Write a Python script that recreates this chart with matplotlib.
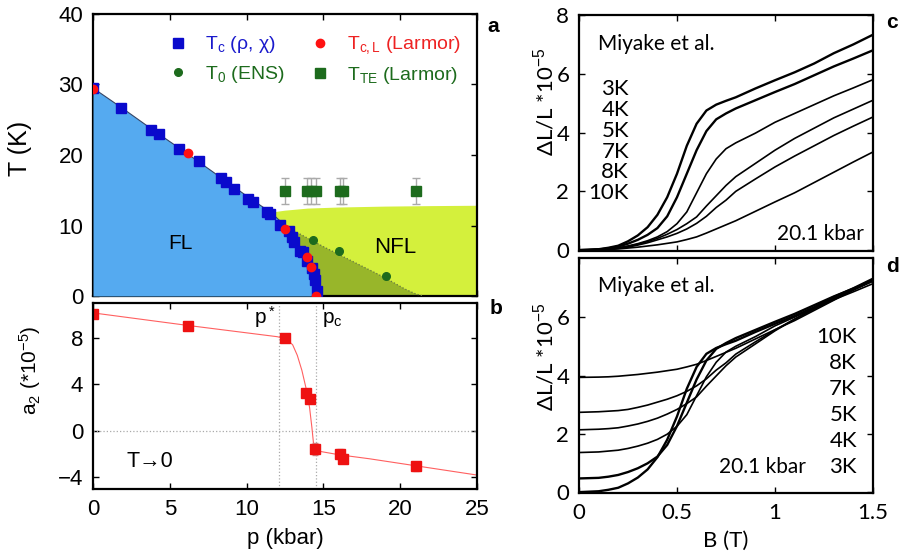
import matplotlib
matplotlib.use("Agg")
import matplotlib.pyplot as plt
from matplotlib.lines import Line2D
import numpy as np

plt.rcParams['font.family'] = ['Liberation Sans', 'DejaVu Sans']
plt.rcParams['mathtext.fontset'] = 'custom'
plt.rcParams['mathtext.rm'] = 'Liberation Sans'
plt.rcParams['mathtext.it'] = 'Liberation Sans'

# ---- panel a: phase diagram ----
tc_p = [0.03, 1.8, 3.76, 4.3, 5.57, 6.9, 8.35, 8.63, 9.2, 10.1, 10.4, 11.3, 11.5,
        12.15, 12.77, 12.96, 13.1, 13.5, 13.7, 13.9, 14.25, 14.37, 14.44, 14.6]
tc_T = [29.5, 26.6, 23.6, 23.0, 20.8, 19.2, 16.7, 16.2, 15.2, 13.7, 13.4, 11.9, 11.6,
        10.1, 9.25, 8.4, 7.7, 6.35, 6.2, 5.0, 4.0, 3.1, 2.2, 0.7]
tcl_p = [0.0, 6.2, 12.5, 13.9, 14.2, 14.5]
tcl_T = [29.4, 20.3, 9.5, 5.5, 4.1, 0.0]
t0_p = [14.3, 16.0, 19.05]
t0_T = [8.0, 6.4, 2.9]
tte_p = [12.5, 13.9, 14.2, 14.5, 16.07, 16.3, 21.05]
tte_T = [14.9, 14.9, 14.9, 14.9, 14.9, 14.9, 14.9]
tte_err = [1.9, 1.9, 1.9, 1.9, 1.9, 1.9, 1.9]

# phase boundary Tc(p)
bound_p = [0, 2, 4, 6, 8, 10, 11.6, 12.5, 13.2, 13.8, 14.2, 14.45, 14.6]
bound_T = [29.5, 26.5, 23.4, 20.4, 17.3, 14.2, 11.8, 10.0, 8.0, 5.8, 3.8, 2.0, 0.0]
# top of NFL region
nfl_top_p = [11.6, 12.0, 12.5, 14, 16, 19, 22, 25]
nfl_top_T = [11.8, 11.95, 12.1, 12.4, 12.55, 12.68, 12.75, 12.8]
# crossover line (dotted)
cross_p = [12.7, 15.0, 17.0, 19.0, 20.3, 21.0, 21.5]
cross_T = [9.7, 7.0, 4.8, 2.6, 1.0, 0.3, 0.0]

# ---- panel b: a2 coefficient ----
a2_p = [0.0, 6.17, 12.48, 13.85, 14.15, 14.48, 16.07, 16.3, 21.0]
a2_v = [10.06, 9.06, 8.0, 3.27, 2.76, -1.54, -2.0, -2.4, -3.05]
a2_err = [0, 0, 0, 0, 0, 0.5, 0.4, 0.4, 0.4]
fit_p = [0, 6, 12, 12.6, 13.0, 13.3, 13.6, 13.9, 14.1, 14.25, 14.35, 14.5, 16, 18, 21, 25]
fit_v = [10.15, 9.1, 8.1, 7.9, 7.4, 6.5, 5.2, 3.5, 2.0, 0.3, -1.0, -1.7, -2.05, -2.4, -3.0, -3.8]
p_star = 12.1
p_c = 14.55

# ---- panels c, d: magnetostriction ----
B = [0, 0.1, 0.15, 0.2, 0.25, 0.3, 0.35, 0.4, 0.45, 0.5, 0.55, 0.6, 0.65, 0.7, 0.75,
     0.8, 0.9, 1.0, 1.1, 1.2, 1.3, 1.4, 1.5]
temps = ['3K', '4K', '5K', '7K', '8K', '10K']
dL = {
    '3K': [0, 0.03, 0.08, 0.15, 0.3, 0.5, 0.78, 1.2, 1.8, 2.6, 3.55, 4.3, 4.75, 4.95, 5.08,
           5.2, 5.5, 5.78, 6.05, 6.35, 6.7, 7.0, 7.33],
    '4K': [0, 0.02, 0.06, 0.12, 0.22, 0.35, 0.52, 0.75, 1.15, 1.8, 2.6, 3.4, 4.05, 4.45, 4.65,
           4.82, 5.1, 5.38, 5.65, 5.95, 6.25, 6.52, 6.8],
    '5K': [0, 0.02, 0.05, 0.08, 0.14, 0.22, 0.32, 0.45, 0.63, 0.9, 1.3, 1.95, 2.6, 3.1, 3.45,
           3.65, 3.98, 4.35, 4.65, 4.95, 5.25, 5.52, 5.8],
    '7K': [0, 0.02, 0.04, 0.07, 0.13, 0.2, 0.29, 0.4, 0.54, 0.7, 0.9, 1.13, 1.5, 1.85, 2.2,
           2.5, 2.95, 3.4, 3.8, 4.15, 4.5, 4.8, 5.1],
    '8K': [0, 0.02, 0.04, 0.06, 0.1, 0.17, 0.25, 0.35, 0.45, 0.57, 0.72, 0.91, 1.15, 1.45, 1.7,
           2.0, 2.42, 2.83, 3.2, 3.55, 3.9, 4.22, 4.53],
    '10K': [0, 0.01, 0.02, 0.04, 0.07, 0.1, 0.14, 0.18, 0.23, 0.28, 0.36, 0.45, 0.58, 0.72, 0.86,
            1.0, 1.32, 1.64, 1.95, 2.3, 2.65, 3.0, 3.34],
}
offsets = {'3K': 0.0, '4K': 0.47, '5K': 1.36, '7K': 2.14, '8K': 2.74, '10K': 3.94}

blue_fill = '#55aaf0'
nfl_fill = '#d4f03c'
olive_fill = '#98b62a'
green = '#1d6b1d'

fig = plt.figure(figsize=(9.05, 5.52), dpi=100)
W, H = 905, 552
ax_a = fig.add_axes([93 / W, 1 - 296 / H, 384 / W, 282 / H])
ax_b = fig.add_axes([93 / W, 1 - 489 / H, 384 / W, 186 / H])
ax_c = fig.add_axes([579 / W, 1 - 251 / H, 294 / W, 236 / H])
ax_d = fig.add_axes([579 / W, 1 - 493 / H, 294 / W, 235 / H])

for ax in (ax_a, ax_b, ax_c, ax_d):
    for s in ax.spines.values():
        s.set_linewidth(1.6)
    ax.tick_params(direction='in', top=True, right=True, length=4, width=1,
                   labelsize=16, pad=7)

# panel a
bp = np.array(bound_p)
bT = np.array(bound_T)
k = bound_p.index(11.6)
nfl_poly_p = list(bp[k:]) + [25, 25] + nfl_top_p[::-1]
nfl_poly_T = list(bT[k:]) + [0, 12.8] + nfl_top_T[::-1]
ax_a.fill(nfl_poly_p, nfl_poly_T, color=nfl_fill, lw=0, zorder=1)
j = 7
ol_p = [cross_p[0]] + list(bp[j:]) + cross_p[::-1]
ol_T = [cross_T[0]] + list(bT[j:]) + cross_T[::-1]
ax_a.fill(ol_p, ol_T, color=olive_fill, lw=0, zorder=2)
ax_a.plot(cross_p, cross_T, ls=':', color='#667744', lw=0.9, zorder=3)
ax_a.fill_between(bound_p, bound_T, 0, color=blue_fill, lw=0, zorder=3)
ax_a.plot(bound_p, bound_T, color='#334466', lw=0.8, zorder=4)

ax_a.errorbar(tte_p, tte_T, yerr=tte_err, fmt='s', color=green, ms=6.5,
              ecolor='#aaaaaa', elinewidth=1, capsize=3, zorder=5)
ax_a.plot(t0_p, t0_T, 'o', color=green, ms=5.5, zorder=5)
ax_a.plot(tc_p, tc_T, 's', color='#0a0acc', ms=6.5, zorder=6)
ax_a.plot(tcl_p, tcl_T, 'o', color='#ff1111', ms=6, zorder=7)

ax_a.text(5.7, 7.4, 'FL', fontsize=15, ha='center', va='center', zorder=8)
ax_a.text(19.7, 6.9, 'NFL', fontsize=16, ha='center', va='center', zorder=8)

handles = [Line2D([], [], ls='', marker='s', color='#0a0acc', ms=6.5),
           Line2D([], [], ls='', marker='o', color=green, ms=5.5),
           Line2D([], [], ls='', marker='o', color='#ff1111', ms=6),
           Line2D([], [], ls='', marker='s', color=green, ms=6.5)]
labels = [r'T$_\mathrm{c}$ ($\mathrm{\rho}$, $\mathrm{\chi}$)', r'T$_\mathrm{0}$ (ENS)',
          r'T$_\mathrm{c,L}$ (Larmor)', r'T$_\mathrm{TE}$ (Larmor)']
ax_a.legend(handles, labels, ncol=2, loc='upper left', bbox_to_anchor=(0.15, 0.99),
            frameon=False, fontsize=14, handlelength=1.0, handletextpad=0.9,
            columnspacing=1.3, labelspacing=0.45,
            labelcolor=['#1a1acc', green, '#ee2222', green])

ax_a.set_xlim(0, 25)
ax_a.set_ylim(0, 40)
ax_a.set_yticks([0, 10, 20, 30, 40])
ax_a.set_xticks([0, 5, 10, 15, 20, 25])
ax_a.set_xticklabels([])
ax_a.set_ylabel('T (K)', fontsize=18)
ax_a.yaxis.set_label_coords(-0.16, 0.525)

# panel b
ax_b.axhline(0, color='#aaaaaa', ls=':', lw=0.9)
ax_b.axvline(p_star, color='#aaaaaa', ls=':', lw=0.9)
ax_b.axvline(p_c, color='#aaaaaa', ls=':', lw=0.9)
ax_b.plot(fit_p, fit_v, color='#ff6060', lw=0.8)
ax_b.errorbar(a2_p, a2_v, yerr=a2_err, fmt='s', color='#ee1111', ms=7,
              ecolor='#cc8888', elinewidth=1, capsize=2)
ax_b.text(11.9, 9.8, r'p$^*$', fontsize=15, ha='right', va='center')
ax_b.text(14.9, 9.6, r'p$_\mathrm{c}$', fontsize=15, ha='left', va='center')
ax_b.text(2.2, -2.64, 'T→0', fontsize=15.5, ha='left', va='center')
ax_b.set_xlim(0, 25)
ax_b.set_ylim(-5, 11)
ax_b.set_yticks([-4, 0, 4, 8])
ax_b.set_xticks([0, 5, 10, 15, 20, 25])
ax_b.set_xlabel('p (kbar)', fontsize=16, labelpad=6)
ax_b.set_ylabel(r'a$_\mathrm{2}$ (*10$^{-5}$)', fontsize=15)
ax_b.yaxis.set_label_coords(-0.13, 0.64)

# panels c, d
for t in temps:
    lw = 1.7 if t in ('3K', '4K') else 1.2
    ax_c.plot(B, dL[t], color='black', lw=lw)
    ax_d.plot(B, np.array(dL[t]) + offsets[t], color='black', lw=lw)

lato = ['Lato', 'DejaVu Sans']
ax_c.text(0.065, 0.875, 'Miyake et al.', transform=ax_c.transAxes, fontsize=15,
          family=lato, va='center')
ax_c.text(0.97, 0.07, '20.1 kbar', transform=ax_c.transAxes, fontsize=15, family=lato,
          ha='right', va='center')
for i, t in enumerate(temps):
    ax_c.text(0.17, 0.685 - i * 0.088, t, transform=ax_c.transAxes, fontsize=16,
              family=lato, ha='right', va='center')
ax_d.text(0.065, 0.88, 'Miyake et al.', transform=ax_d.transAxes, fontsize=15,
          family=lato, va='center')
ax_d.text(0.77, 0.112, '20.1 kbar', transform=ax_d.transAxes, fontsize=15, family=lato,
          ha='right', va='center')
for i, t in enumerate(temps[::-1]):
    ax_d.text(0.945, 0.665 - i * 0.1106, t, transform=ax_d.transAxes, fontsize=16,
              family=lato, ha='right', va='center')

ax_c.set_xlim(0, 1.5)
ax_c.set_ylim(-0.03, 8)
ax_c.set_yticks([0, 2, 4, 6, 8])
ax_c.set_xticks([0, 0.5, 1, 1.5])
ax_c.set_xticklabels([])
ax_d.set_xlim(0, 1.5)
ax_d.set_ylim(-0.03, 8.04)
ax_d.set_yticks([0, 2, 4, 6])
ax_d.set_xticks([0, 0.5, 1, 1.5])
ax_d.set_xticklabels(['0', '0.5', '1', '1.5'])
ax_d.set_xlabel('B (T)', fontsize=16, family=lato, labelpad=6)
for ax, yc in ((ax_c, 0.63), (ax_d, 0.58)):
    ax.set_ylabel(r'ΔL/L *10$^{-5}$', fontsize=16, family=lato)
    ax.yaxis.set_label_coords(-0.075, yc)
    for lab in ax.get_xticklabels() + ax.get_yticklabels():
        lab.set_fontfamily(lato)
        lab.set_fontsize(16)

fig.text(487 / W, 1 - 27 / H, 'a', fontsize=15, fontweight='bold', va='center')
fig.text(490 / W, 1 - 308 / H, 'b', fontsize=15, fontweight='bold', va='center')
fig.text(886 / W, 1 - 22 / H, 'c', fontsize=15, fontweight='bold', va='center')
fig.text(886 / W, 1 - 267 / H, 'd', fontsize=15, fontweight='bold', va='center')

fig.savefig('out.png', dpi=100)
